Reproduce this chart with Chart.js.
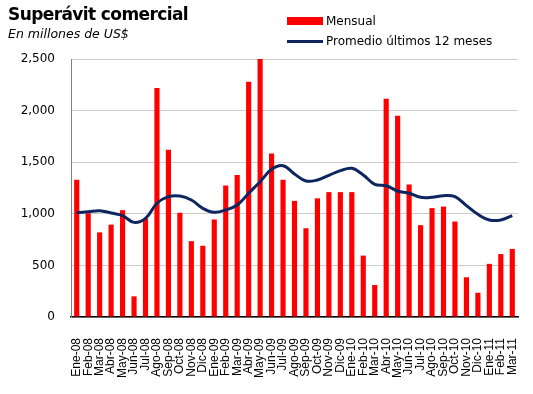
<!DOCTYPE html>
<html><head><meta charset="utf-8">
<script src="https://cdn.jsdelivr.net/npm/chart.js@4"></script>
<style>
body{margin:0;background:#fff;}
#wrap{position:relative;width:533px;height:394px;overflow:hidden;}
canvas{position:absolute;left:0;top:0;}
.t{position:absolute;font-family:"DejaVu Sans",sans-serif;color:#000;white-space:nowrap;line-height:1;}
</style></head><body>
<div id="wrap">
<canvas id="c" width="533" height="394"></canvas>
<div class="t" style="left:8px;top:6px;font-size:17px;font-weight:bold;letter-spacing:-0.6px;">Superávit comercial</div>
<div class="t" style="left:8px;top:28px;font-size:12.5px;font-style:italic;">En millones de US$</div>
<div style="position:absolute;left:287px;top:17px;width:36px;height:8px;background:#ff0000;"></div>
<div class="t" style="left:326px;top:15px;font-size:12px;">Mensual</div>
<div style="position:absolute;left:287px;top:40px;width:36px;height:3px;background:#0d2660;"></div>
<div class="t" style="left:326px;top:35px;font-size:12px;">Promedio últimos 12 meses</div>
</div>
<script>
const categorias = ['Ene-08','Feb-08','Mar-08','Abr-08','May-08','Jun-08','Jul-08','Ago-08','Sep-08','Oct-08','Nov-08','Dic-08',
'Ene-09','Feb-09','Mar-09','Abr-09','May-09','Jun-09','Jul-09','Ago-09','Sep-09','Oct-09','Nov-09','Dic-09',
'Ene-10','Feb-10','Mar-10','Abr-10','May-10','Jun-10','Jul-10','Ago-10','Sep-10','Oct-10','Nov-10','Dic-10',
'Ene-11','Feb-11','Mar-11'];
const mensual = [1330,1005,820,895,1035,200,955,2220,1620,1010,735,690,
945,1275,1375,2280,2500,1585,1330,1125,860,1150,1210,1210,
1210,595,310,2115,1950,1285,890,1055,1070,925,385,235,
515,610,660];
const promedio = [1010,1020,1030,1008,982,917,956,1102,1166,1172,1134,1053,
1015,1037,1085,1199,1311,1431,1466,1386,1318,1328,1373,1418,
1441,1376,1286,1272,1221,1199,1160,1160,1176,1166,1079,995,
940,940,982];
const yTicks = [0,500,1000,1500,2000,2500];

new Chart(document.getElementById('c'), {
  data: {
    labels: categorias,
    datasets: [
      {type:'line', label:'Promedio últimos 12 meses', data: promedio, borderColor:'#0d2660', borderWidth:3, pointRadius:0, tension:0.4, order:0},
      {type:'bar', label:'Mensual', data: mensual, backgroundColor:'#ff0000', categoryPercentage:1, barPercentage:0.45, order:1}
    ]
  },
  options: {
    responsive:false, animation:false,
    layout:{padding:{top:59,right:15,left:0,bottom:0}},
    plugins:{legend:{display:false}, tooltip:{enabled:false}},
    scales:{
      x:{
        grid:{display:false, drawTicks:false},
        border:{color:'#000', width:1.5},
        ticks:{autoSkip:false, minRotation:90, maxRotation:90, padding:21, color:'#000', font:{family:'Liberation Sans', size:12}},
        afterFit:(s)=>{s.height=77; s.paddingLeft=0; s.paddingRight=0;}
      },
      y:{
        min:0, max:2500,
        afterBuildTicks:(s)=>{s.ticks = yTicks.map(v=>({value:v}));},
        grid:{color:'#cccccc', drawTicks:false},
        border:{color:'#808080', width:1},
        ticks:{padding:16, color:'#000', font:{family:'DejaVu Sans', size:12}, callback:(v)=>v.toLocaleString('en-US')},
        afterFit:(s)=>{s.width=71; s.paddingTop=0; s.paddingBottom=0;}
      }
    }
  }
});
</script>
</body></html>
